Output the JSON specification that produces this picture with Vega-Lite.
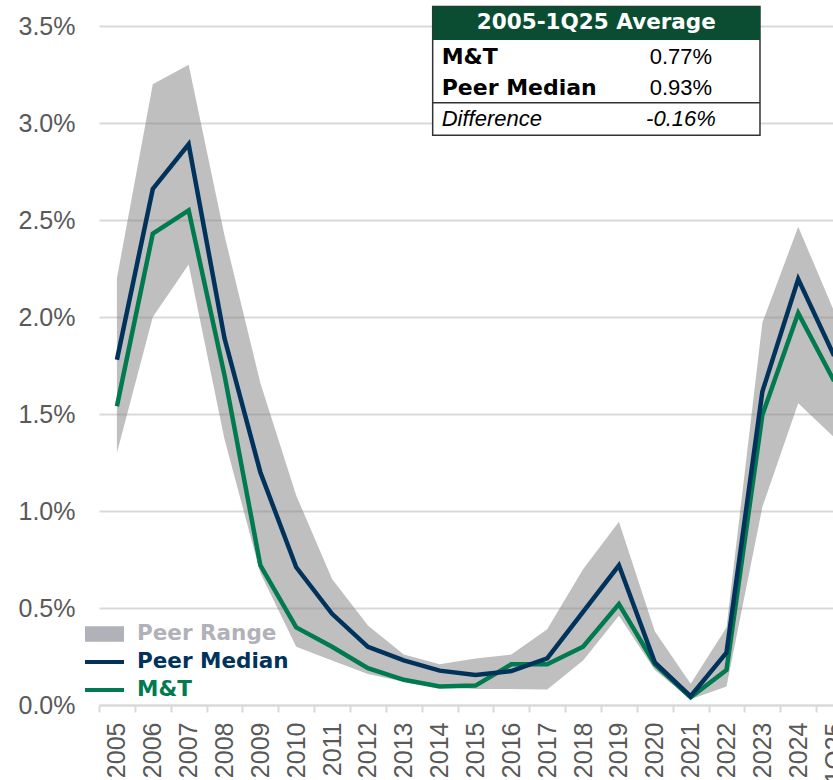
{
  "$schema": "https://vega.github.io/schema/vega-lite/v6.json",
  "autosize": {"type": "none"},
  "width": 734,
  "height": 679,
  "padding": {"left": 99, "top": 26, "right": 0, "bottom": 75},
  "background": "white",
  "config": {"view": {"stroke": null}, "font": "Liberation Sans"},
  "datasets": {
    "range": [
      {"year": "2005", "low": 1.30, "high": 2.20},
      {"year": "2006", "low": 2.00, "high": 3.20},
      {"year": "2007", "low": 2.27, "high": 3.30},
      {"year": "2008", "low": 1.37, "high": 2.42},
      {"year": "2009", "low": 0.68, "high": 1.66},
      {"year": "2010", "low": 0.30, "high": 1.08},
      {"year": "2011", "low": 0.23, "high": 0.65},
      {"year": "2012", "low": 0.16, "high": 0.41},
      {"year": "2013", "low": 0.12, "high": 0.26},
      {"year": "2014", "low": 0.093, "high": 0.21},
      {"year": "2015", "low": 0.082, "high": 0.24},
      {"year": "2016", "low": 0.082, "high": 0.26},
      {"year": "2017", "low": 0.08, "high": 0.39},
      {"year": "2018", "low": 0.23, "high": 0.70},
      {"year": "2019", "low": 0.46, "high": 0.945},
      {"year": "2020", "low": 0.18, "high": 0.38},
      {"year": "2021", "low": 0.03, "high": 0.11},
      {"year": "2022", "low": 0.095, "high": 0.40},
      {"year": "2023", "low": 1.02, "high": 1.97},
      {"year": "2024", "low": 1.555, "high": 2.465},
      {"year": "1Q25", "low": 1.38, "high": 2.03}
    ],
    "lines": [
      {"year": "2005", "series": "Peer Median", "value": 1.78},
      {"year": "2006", "series": "Peer Median", "value": 2.66},
      {"year": "2007", "series": "Peer Median", "value": 2.89},
      {"year": "2008", "series": "Peer Median", "value": 1.89},
      {"year": "2009", "series": "Peer Median", "value": 1.20},
      {"year": "2010", "series": "Peer Median", "value": 0.71},
      {"year": "2011", "series": "Peer Median", "value": 0.47},
      {"year": "2012", "series": "Peer Median", "value": 0.30},
      {"year": "2013", "series": "Peer Median", "value": 0.23},
      {"year": "2014", "series": "Peer Median", "value": 0.177},
      {"year": "2015", "series": "Peer Median", "value": 0.155},
      {"year": "2016", "series": "Peer Median", "value": 0.175},
      {"year": "2017", "series": "Peer Median", "value": 0.24},
      {"year": "2018", "series": "Peer Median", "value": 0.48},
      {"year": "2019", "series": "Peer Median", "value": 0.72},
      {"year": "2020", "series": "Peer Median", "value": 0.22},
      {"year": "2021", "series": "Peer Median", "value": 0.045},
      {"year": "2022", "series": "Peer Median", "value": 0.27},
      {"year": "2023", "series": "Peer Median", "value": 1.615},
      {"year": "2024", "series": "Peer Median", "value": 2.195},
      {"year": "1Q25", "series": "Peer Median", "value": 1.80},
      {"year": "2005", "series": "M&T", "value": 1.54},
      {"year": "2006", "series": "M&T", "value": 2.43},
      {"year": "2007", "series": "M&T", "value": 2.55},
      {"year": "2008", "series": "M&T", "value": 1.70},
      {"year": "2009", "series": "M&T", "value": 0.72},
      {"year": "2010", "series": "M&T", "value": 0.40},
      {"year": "2011", "series": "M&T", "value": 0.30},
      {"year": "2012", "series": "M&T", "value": 0.19},
      {"year": "2013", "series": "M&T", "value": 0.13},
      {"year": "2014", "series": "M&T", "value": 0.095},
      {"year": "2015", "series": "M&T", "value": 0.10},
      {"year": "2016", "series": "M&T", "value": 0.21},
      {"year": "2017", "series": "M&T", "value": 0.21},
      {"year": "2018", "series": "M&T", "value": 0.30},
      {"year": "2019", "series": "M&T", "value": 0.52},
      {"year": "2020", "series": "M&T", "value": 0.21},
      {"year": "2021", "series": "M&T", "value": 0.04},
      {"year": "2022", "series": "M&T", "value": 0.18},
      {"year": "2023", "series": "M&T", "value": 1.495},
      {"year": "2024", "series": "M&T", "value": 2.02},
      {"year": "1Q25", "series": "M&T", "value": 1.67}
    ],
    "head": [{"title": "2005-1Q25 Average"}],
    "summary": [
      {"name": "M&T", "avg": "0.77%"},
      {"name": "Peer Median", "avg": "0.93%"},
      {"name": "Difference", "avg": "-0.16%"}
    ]
  },
  "layer": [
    {
      "layer": [
        {
          "data": {"name": "range"},
          "mark": {"type": "area", "fill": "#808080", "fillOpacity": 0.5},
          "encoding": {
            "x": {
              "field": "year", "type": "ordinal",
              "scale": {"type": "band", "domain": ["2005","2006","2007","2008","2009","2010","2011","2012","2013","2014","2015","2016","2017","2018","2019","2020","2021","2022","2023","2024","1Q25"], "paddingInner": 0, "paddingOuter": 0, "range": [0, 753]},
              "axis": {"title": null, "tickBand": "extent", "labelAngle": -90, "labelFont": "Liberation Sans", "labelFontSize": 25, "labelColor": "#595959", "labelPadding": 10, "domainColor": "#d9d9d9", "domainWidth": 2, "tickColor": "#d9d9d9", "tickWidth": 2, "tickSize": 7, "grid": false, "labelOverlap": false}
            },
            "y": {
              "field": "low", "type": "quantitative",
              "scale": {"domain": [0, 3.5], "nice": false},
              "axis": {"title": null, "values": [0, 0.5, 1, 1.5, 2, 2.5, 3, 3.5], "labelExpr": "format(datum.value, '.1f') + '%'", "domain": false, "ticks": false, "grid": true, "gridColor": "#d9d9d9", "gridWidth": 2, "labelFont": "Liberation Sans", "labelFontSize": 25, "labelColor": "#595959", "labelPadding": 24}
            },
            "y2": {"field": "high"}
          }
        },
        {
          "data": {"name": "lines"},
          "transform": [{"filter": "datum.series === 'M&T'"}],
          "mark": {"type": "line", "strokeWidth": 4.5},
          "encoding": {
            "x": {"field": "year", "type": "ordinal"},
            "y": {"field": "value", "type": "quantitative", "scale": {"domain": [0, 3.5], "nice": false}},
            "color": {
              "field": "series", "type": "nominal",
              "scale": {"domain": ["Peer Range", "Peer Median", "M&T"], "range": ["#b1b1b9", "#00335c", "#007a4e"]},
              "legend": {
                "orient": "none", "legendX": -14, "legendY": 600, "title": null, "direction": "vertical",
                "padding": 0, "clipHeight": 16, "rowPadding": 6, "symbolSize": 1521, "labelOffset": 13,
                "labelFont": "DejaVu Sans", "labelFontWeight": "bold", "labelFontSize": 21.5, "labelLimit": 300,
                "symbolStrokeWidth": 0,
                "encode": {
                  "symbols": {"update": {
                    "shape": {"signal": "datum.value === 'Peer Range' ? 'M-1,-0.4L1,-0.4L1,0.4L-1,0.4Z' : 'M-1,-0.1L1,-0.1L1,0.1L-1,0.1Z'"},
                    "fill": {"signal": "scale('color', datum.value)"},
                    "fillOpacity": {"value": 1},
                    "opacity": {"value": 1},
                    "stroke": {"value": "transparent"},
                    "strokeWidth": {"value": 0}
                  }},
                  "labels": {"update": {"fill": {"signal": "scale('color', datum.value)"}}}
                }
              }
            }
          }
        },
        {
          "data": {"name": "lines"},
          "transform": [{"filter": "datum.series === 'Peer Median'"}],
          "mark": {"type": "line", "strokeWidth": 4.5},
          "encoding": {
            "x": {"field": "year", "type": "ordinal"},
            "y": {"field": "value", "type": "quantitative", "scale": {"domain": [0, 3.5], "nice": false}},
            "color": {"field": "series", "type": "nominal"}
          }
        }
      ]
    },
    {
      "data": {"name": "head"},
      "layer": [
        {
          "mark": {"type": "rect", "fill": "white", "stroke": "#333333", "strokeWidth": 1.5},
          "encoding": {
            "x": {"datum": 9.306, "type": "quantitative", "scale": {"domain": [0, 21], "range": [0, 753], "nice": false, "zero": false}, "axis": null},
            "x2": {"datum": 18.434},
            "y": {"datum": 3.6, "type": "quantitative", "scale": {"domain": [0, 3.5], "nice": false}},
            "y2": {"datum": 2.937}
          }
        },
        {
          "mark": {"type": "rect", "fill": "#0b4d33"},
          "encoding": {
            "x": {"datum": 9.306, "type": "quantitative"},
            "x2": {"datum": 18.434},
            "y": {"datum": 3.6, "type": "quantitative"},
            "y2": {"datum": 3.428}
          }
        },
        {
          "mark": {"type": "rule", "stroke": "#333333", "strokeWidth": 1.5},
          "encoding": {
            "x": {"datum": 9.306, "type": "quantitative"},
            "x2": {"datum": 18.434},
            "y": {"datum": 3.105, "type": "quantitative"}
          }
        },
        {
          "mark": {"type": "text", "font": "DejaVu Sans", "fontWeight": "bold", "fontSize": 21.5, "fill": "white", "align": "center", "baseline": "middle"},
          "encoding": {
            "x": {"datum": 13.87, "type": "quantitative"},
            "y": {"datum": 3.514, "type": "quantitative"},
            "text": {"field": "title"}
          }
        },
        {
          "data": {"name": "summary"},
          "transform": [{"filter": "datum.name === 'M&T'"}],
          "layer": [
            {
              "mark": {"type": "text", "font": "DejaVu Sans", "fontWeight": "bold", "fontSize": 22, "fill": "black", "align": "left", "baseline": "middle"},
              "encoding": {"x": {"datum": 9.557, "type": "quantitative"}, "y": {"datum": 3.338, "type": "quantitative"}, "text": {"field": "name"}}
            },
            {
              "mark": {"type": "text", "font": "Liberation Sans", "fontSize": 22, "fill": "black", "align": "center", "baseline": "middle"},
              "encoding": {"x": {"datum": 16.23, "type": "quantitative"}, "y": {"datum": 3.338, "type": "quantitative"}, "text": {"field": "avg"}}
            }
          ]
        },
        {
          "data": {"name": "summary"},
          "transform": [{"filter": "datum.name === 'Peer Median'"}],
          "layer": [
            {
              "mark": {"type": "text", "font": "DejaVu Sans", "fontWeight": "bold", "fontSize": 22, "fill": "black", "align": "left", "baseline": "middle"},
              "encoding": {"x": {"datum": 9.557, "type": "quantitative"}, "y": {"datum": 3.179, "type": "quantitative"}, "text": {"field": "name"}}
            },
            {
              "mark": {"type": "text", "font": "Liberation Sans", "fontSize": 22, "fill": "black", "align": "center", "baseline": "middle"},
              "encoding": {"x": {"datum": 16.23, "type": "quantitative"}, "y": {"datum": 3.179, "type": "quantitative"}, "text": {"field": "avg"}}
            }
          ]
        },
        {
          "data": {"name": "summary"},
          "transform": [{"filter": "datum.name === 'Difference'"}],
          "layer": [
            {
              "mark": {"type": "text", "font": "Liberation Sans", "fontStyle": "italic", "fontSize": 22, "fill": "black", "align": "left", "baseline": "middle"},
              "encoding": {"x": {"datum": 9.557, "type": "quantitative"}, "y": {"datum": 3.019, "type": "quantitative"}, "text": {"field": "name"}}
            },
            {
              "mark": {"type": "text", "font": "Liberation Sans", "fontStyle": "italic", "fontSize": 22, "fill": "black", "align": "center", "baseline": "middle"},
              "encoding": {"x": {"datum": 16.23, "type": "quantitative"}, "y": {"datum": 3.019, "type": "quantitative"}, "text": {"field": "avg"}}
            }
          ]
        }
      ]
    }
  ],
  "resolve": {"scale": {"x": "independent"}, "axis": {"x": "independent"}}
}
